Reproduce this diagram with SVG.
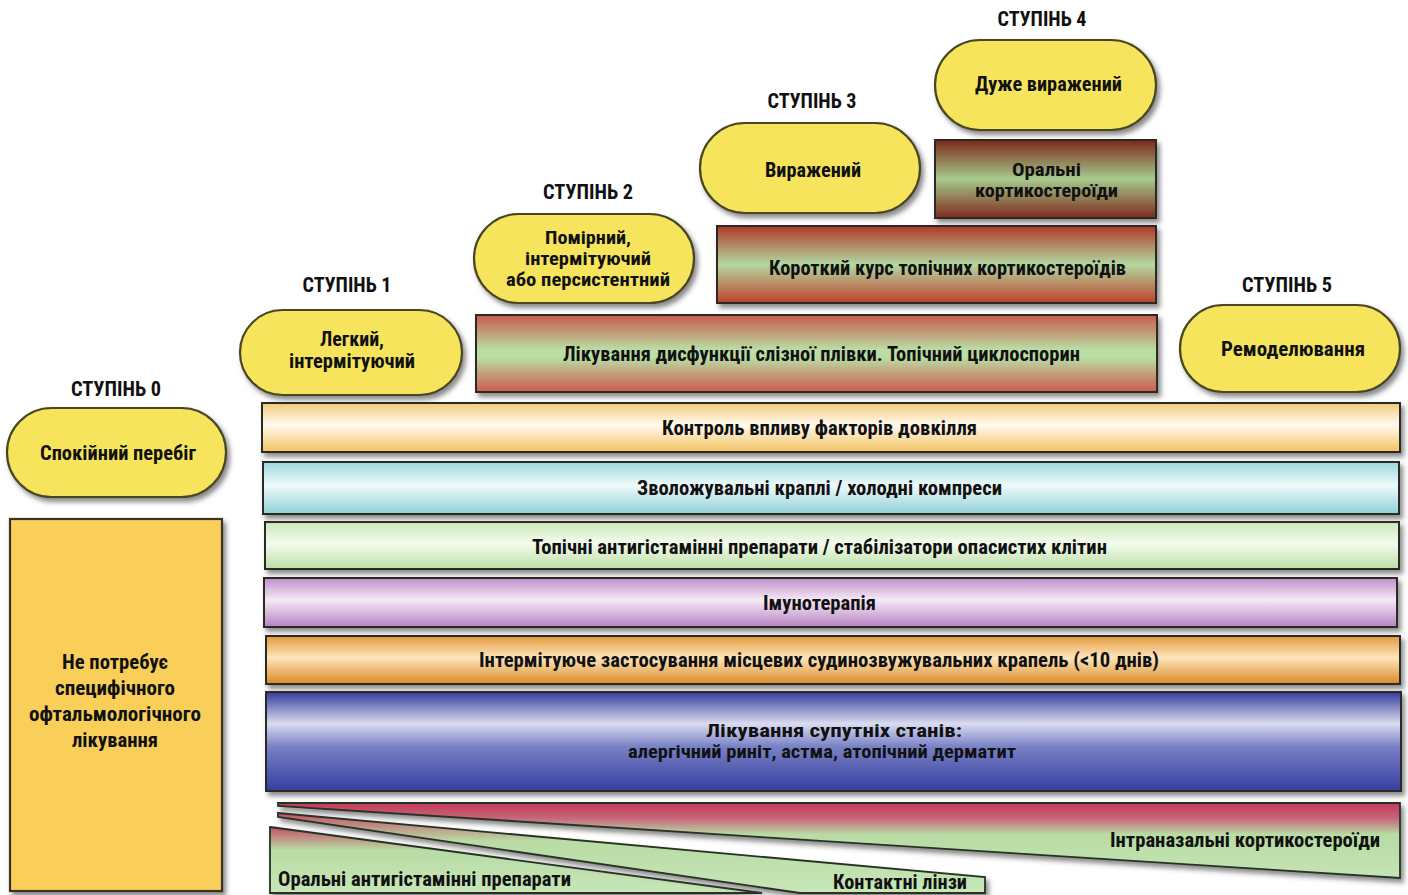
<svg xmlns="http://www.w3.org/2000/svg" width="1408" height="895" viewBox="0 0 1408 895">
<style>
text{font-family:"Liberation Sans Narrow","Roboto Condensed","DejaVu Sans Condensed","Liberation Sans",sans-serif;font-weight:bold;fill:#111;text-anchor:middle;font-size:20px}
.h{font-size:21px}
.s{font-size:18.5px}
.pill{fill:#f6e55c;stroke:#4a4622;stroke-width:2.2;filter:url(#sh)}
.bar{stroke:#2a2a24;stroke-width:2;filter:url(#sh)}
.wedge{stroke:#263224;stroke-width:1.8;filter:url(#sh)}
</style>
<defs>
<filter id="sh" x="-5%" y="-10%" width="115%" height="140%">
<feDropShadow dx="3" dy="4" stdDeviation="2.5" flood-color="#3a3a3a" flood-opacity="0.6"/>
</filter>
<linearGradient id="gTear" x1="0" y1="0" x2="0" y2="1"><stop offset="0" stop-color="#c9584e"/><stop offset="0.45" stop-color="#badea4"/><stop offset="0.55" stop-color="#badea4"/><stop offset="1" stop-color="#cc5a50"/></linearGradient>
<linearGradient id="gShort" x1="0" y1="0" x2="0" y2="1"><stop offset="0" stop-color="#b2372a"/><stop offset="0.5" stop-color="#b2d9a0"/><stop offset="1" stop-color="#bf412e"/></linearGradient>
<linearGradient id="gOral" x1="0" y1="0" x2="0" y2="1"><stop offset="0" stop-color="#7a281a"/><stop offset="0.5" stop-color="#a6ca8e"/><stop offset="1" stop-color="#7e2a1c"/></linearGradient>
<linearGradient id="gEnv" x1="0" y1="0" x2="0" y2="1"><stop offset="0" stop-color="#f3cb78"/><stop offset="0.45" stop-color="#fffaf0"/><stop offset="1" stop-color="#f2c25e"/></linearGradient>
<linearGradient id="gMoist" x1="0" y1="0" x2="0" y2="1"><stop offset="0" stop-color="#9cd6de"/><stop offset="0.45" stop-color="#eefafa"/><stop offset="1" stop-color="#90d0d8"/></linearGradient>
<linearGradient id="gTop" x1="0" y1="0" x2="0" y2="1"><stop offset="0" stop-color="#cae8b8"/><stop offset="0.45" stop-color="#f4fbee"/><stop offset="1" stop-color="#bce0a6"/></linearGradient>
<linearGradient id="gImmu" x1="0" y1="0" x2="0" y2="1"><stop offset="0" stop-color="#bf8ecb"/><stop offset="0.45" stop-color="#f5eaf6"/><stop offset="1" stop-color="#b682c2"/></linearGradient>
<linearGradient id="gVaso" x1="0" y1="0" x2="0" y2="1"><stop offset="0" stop-color="#e3983a"/><stop offset="0.45" stop-color="#fde6bc"/><stop offset="1" stop-color="#da8a28"/></linearGradient>
<linearGradient id="gBlue" x1="0" y1="0" x2="0" y2="1"><stop offset="0" stop-color="#343c9c"/><stop offset="0.32" stop-color="#dadcf0"/><stop offset="0.55" stop-color="#7a82c6"/><stop offset="1" stop-color="#353d9e"/></linearGradient>
<linearGradient id="gWedge" x1="0" y1="0" x2="0" y2="1"><stop offset="0" stop-color="#c43a5c"/><stop offset="0.2" stop-color="#c8647a"/><stop offset="0.42" stop-color="#b8dca4"/><stop offset="1" stop-color="#c4e4b4"/></linearGradient>
<linearGradient id="gWedgeC" x1="0" y1="0" x2="0" y2="1"><stop offset="0" stop-color="#c44e68"/><stop offset="0.35" stop-color="#b8dca4"/><stop offset="1" stop-color="#c8e6b8"/></linearGradient>
</defs>
<rect width="1408" height="895" fill="#ffffff"/>

<g id="headings">
<text class="h" x="116" y="396" textLength="90" lengthAdjust="spacingAndGlyphs">СТУПІНЬ 0</text>
<text class="h" x="347" y="292" textLength="89" lengthAdjust="spacingAndGlyphs">СТУПІНЬ 1</text>
<text class="h" x="588" y="199" textLength="90" lengthAdjust="spacingAndGlyphs">СТУПІНЬ 2</text>
<text class="h" x="812" y="108" textLength="89" lengthAdjust="spacingAndGlyphs">СТУПІНЬ 3</text>
<text class="h" x="1042" y="26" textLength="89" lengthAdjust="spacingAndGlyphs">СТУПІНЬ 4</text>
<text class="h" x="1287" y="292" textLength="90" lengthAdjust="spacingAndGlyphs">СТУПІНЬ 5</text>
</g>

<g id="wedge-oral-antihist">
<polygon class="wedge" points="270,827 762,893 270,893" fill="url(#gWedgeC)"/>
<text x="424.5" y="886" textLength="293" lengthAdjust="spacingAndGlyphs">Оральні антигістамінні препарати</text>
</g>
<g id="wedge-contact-lenses">
<polygon class="wedge" points="278,813 985,877 985,893 800,893 278,817" fill="url(#gWedgeC)"/>
<text x="900" y="889" textLength="134" lengthAdjust="spacingAndGlyphs">Контактні лінзи</text>
</g>
<g id="wedge-intranasal">
<polygon class="wedge" points="278,803 1400,803 1400,878 278,806" fill="url(#gWedge)"/>
<text x="1245" y="847" textLength="270" lengthAdjust="spacingAndGlyphs">Інтраназальні кортикостероїди</text>
</g>

<g id="bar-comorbid">
<rect class="bar" x="266" y="692" width="1135" height="99" fill="url(#gBlue)"/>
<text class="s" x="834" y="737" textLength="256" lengthAdjust="spacingAndGlyphs">Лікування супутніх станів:</text>
<text class="s" x="822" y="758" textLength="388" lengthAdjust="spacingAndGlyphs">алергічний риніт, астма, атопічний дерматит</text>
</g>
<g id="bar-vasoconstrictors">
<rect class="bar" x="266" y="636" width="1134" height="48" fill="url(#gVaso)"/>
<text x="819" y="667" textLength="680" lengthAdjust="spacingAndGlyphs">Інтермітуюче застосування місцевих судинозвужувальних крапель (&lt;10 днів)</text>
</g>
<g id="bar-immunotherapy">
<rect class="bar" x="264" y="578" width="1133" height="49" fill="url(#gImmu)"/>
<text x="819.5" y="610" textLength="113" lengthAdjust="spacingAndGlyphs">Імунотерапія</text>
</g>
<g id="bar-topical-antihist">
<rect class="bar" x="265" y="522" width="1134" height="47" fill="url(#gTop)"/>
<text x="819.5" y="554" textLength="575" lengthAdjust="spacingAndGlyphs">Топічні антигістамінні препарати / стабілізатори опасистих клітин</text>
</g>
<g id="bar-moisturizing">
<rect class="bar" x="263" y="462" width="1136" height="52" fill="url(#gMoist)"/>
<text x="819.5" y="495" textLength="365" lengthAdjust="spacingAndGlyphs">Зволожувальні краплі / холодні компреси</text>
</g>
<g id="bar-environment">
<rect class="bar" x="262" y="403" width="1138" height="49" fill="url(#gEnv)"/>
<text x="819.5" y="435" textLength="315" lengthAdjust="spacingAndGlyphs">Контроль впливу факторів довкілля</text>
</g>
<g id="bar-tear-film">
<rect class="bar" x="476" y="315" width="681" height="77" fill="url(#gTear)"/>
<text x="821.5" y="361" textLength="517" lengthAdjust="spacingAndGlyphs">Лікування дисфункції слізної плівки. Топічний циклоспорин</text>
</g>
<g id="bar-short-course">
<rect class="bar" x="717" y="226" width="439" height="77" fill="url(#gShort)"/>
<text x="947.5" y="275" textLength="357" lengthAdjust="spacingAndGlyphs">Короткий курс топічних кортикостероїдів</text>
</g>
<g id="bar-oral-cortico">
<rect class="bar" x="935" y="140" width="221" height="78" fill="url(#gOral)"/>
<text class="s" x="1046.5" y="176" textLength="69" lengthAdjust="spacingAndGlyphs">Оральні</text>
<text class="s" x="1046.5" y="197" textLength="143" lengthAdjust="spacingAndGlyphs">кортикостероїди</text>
</g>

<g id="box-no-treatment">
<rect x="10" y="519" width="212" height="372" fill="#f9cf5a" stroke="#3a3220" stroke-width="2.2" filter="url(#sh)"/>
<text x="115" y="669" textLength="106" lengthAdjust="spacingAndGlyphs">Не потребує</text>
<text x="115" y="695" textLength="120" lengthAdjust="spacingAndGlyphs">специфічного</text>
<text x="115" y="721" textLength="172" lengthAdjust="spacingAndGlyphs">офтальмологічного</text>
<text x="115" y="747" textLength="86" lengthAdjust="spacingAndGlyphs">лікування</text>
</g>

<g id="pill-0">
<rect class="pill" x="7" y="408" width="219" height="89" rx="44.5"/>
<text x="118" y="460" textLength="156" lengthAdjust="spacingAndGlyphs">Спокійний перебіг</text>
</g>
<g id="pill-1">
<rect class="pill" x="240" y="310" width="222" height="85" rx="42.5"/>
<text x="352" y="346" textLength="64" lengthAdjust="spacingAndGlyphs">Легкий,</text>
<text x="352" y="368" textLength="126" lengthAdjust="spacingAndGlyphs">інтермітуючий</text>
</g>
<g id="pill-2">
<rect class="pill" x="474" y="214" width="220" height="89" rx="44.5"/>
<text class="s" x="588" y="244" textLength="86" lengthAdjust="spacingAndGlyphs">Помірний,</text>
<text class="s" x="588" y="265" textLength="126" lengthAdjust="spacingAndGlyphs">інтермітуючий</text>
<text class="s" x="588" y="286" textLength="164" lengthAdjust="spacingAndGlyphs">або персистентний</text>
</g>
<g id="pill-3">
<rect class="pill" x="700" y="123" width="220" height="90" rx="45"/>
<text x="813" y="177" textLength="96" lengthAdjust="spacingAndGlyphs">Виражений</text>
</g>
<g id="pill-4">
<rect class="pill" x="935" y="40" width="221" height="90" rx="45"/>
<text x="1048.5" y="91" textLength="147" lengthAdjust="spacingAndGlyphs">Дуже виражений</text>
</g>
<g id="pill-5">
<rect class="pill" x="1180" y="305" width="220" height="87" rx="43.5"/>
<text x="1293" y="356" textLength="144" lengthAdjust="spacingAndGlyphs">Ремоделювання</text>
</g>
</svg>
